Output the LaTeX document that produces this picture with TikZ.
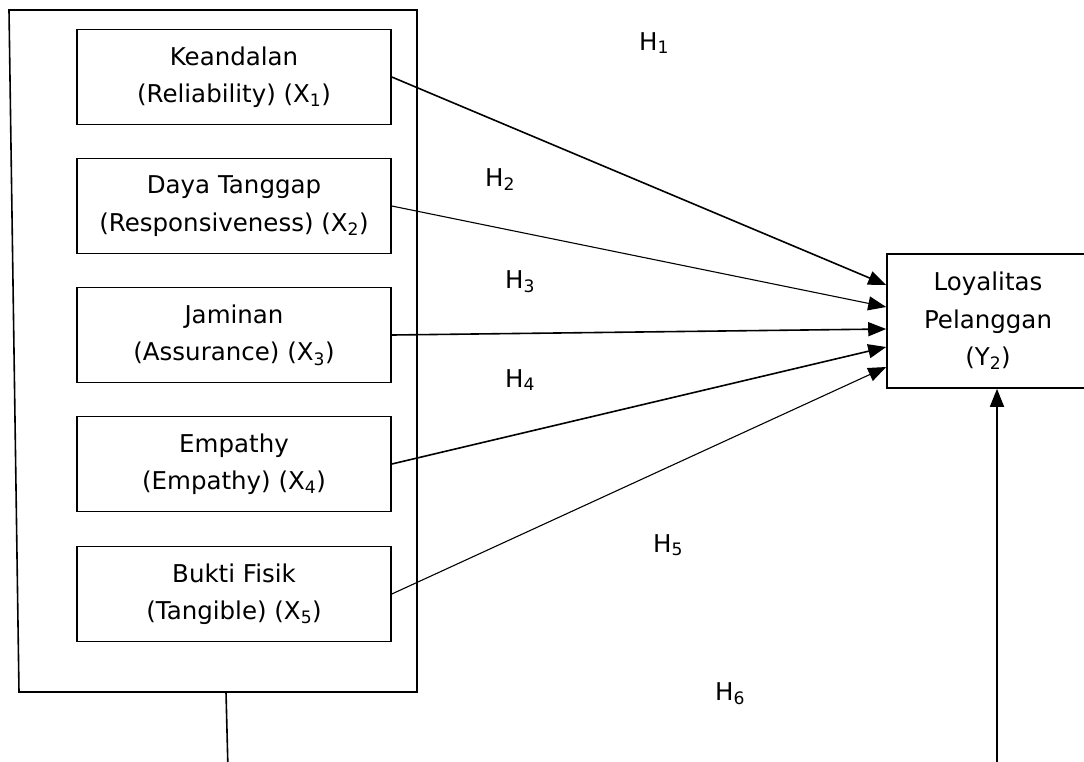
\documentclass[tikz,border=0pt]{standalone}
\usepackage{fontspec}
\setmainfont{DejaVu Sans}
\usetikzlibrary{arrows.meta}
\tikzset{
  dimbox/.style={draw, line width=1.6pt, minimum width=314pt, minimum height=95pt,
    align=center, font=\fontsize{24.5}{37.5}\selectfont},
  hyp/.style={anchor=base west, inner sep=0pt, font=\fontsize{24.5}{37.5}\selectfont},
  link/.style={line width=1.6pt, -{Triangle[length=18pt,width=14pt]}},
  thinlink/.style={link, line width=1.1pt}
}
\begin{document}
\begin{tikzpicture}[x=1pt,y=-1pt]
  \useasboundingbox (0,0) rectangle (1084,761);
  \clip (0,0) rectangle (1084,761);
  \draw[line width=1.6pt] (9,10) -- (417,10) -- (417,692) -- (19,692) -- cycle;
  \node[dimbox] (keandalan) at (234,77) {Keandalan\\(Reliability) (X\textsubscript{1})};
  \node[dimbox] (daya) at (234,206) {Daya Tanggap\\(Responsiveness) (X\textsubscript{2})};
  \node[dimbox] (jaminan) at (234,335) {Jaminan\\(Assurance) (X\textsubscript{3})};
  \node[dimbox] (empathy) at (234,464) {Empathy\\(Empathy) (X\textsubscript{4})};
  \node[dimbox] (bukti) at (234,594) {Bukti Fisik\\(Tangible) (X\textsubscript{5})};
  \node[dimbox, minimum width=202pt, minimum height=134pt] (loyal) at (988,321)
    {Loyalitas\\Pelanggan\\(Y\textsubscript{2})};
  \draw[link] (keandalan.east) -- (loyal.west |- 0,285);
  \draw[thinlink] (daya.east) -- (loyal.west |- 0,307);
  \draw[link] (jaminan.east) -- (loyal.west |- 0,329);
  \draw[link] (empathy.east) -- (loyal.west |- 0,347);
  \draw[thinlink] (bukti.east) -- (loyal.west |- 0,367);
  \coordinate (stemtop) at (226,692);
  \coordinate (stemend) at (228,770);
  \coordinate (rise) at (997,770);
  \draw[line width=1.6pt] (stemtop) -- (stemend);
  \draw[link] (rise) -- (loyal.south -| rise);
  \node[hyp] (h1) at (639,50) {H\textsubscript{1}};
  \node[hyp] (h2) at (485,186) {H\textsubscript{2}};
  \node[hyp] (h3) at (505,288) {H\textsubscript{3}};
  \node[hyp] (h4) at (505,387) {H\textsubscript{4}};
  \node[hyp] (h5) at (653,552) {H\textsubscript{5}};
  \node[hyp] (h6) at (715,700) {H\textsubscript{6}};
\end{tikzpicture}
\end{document}
